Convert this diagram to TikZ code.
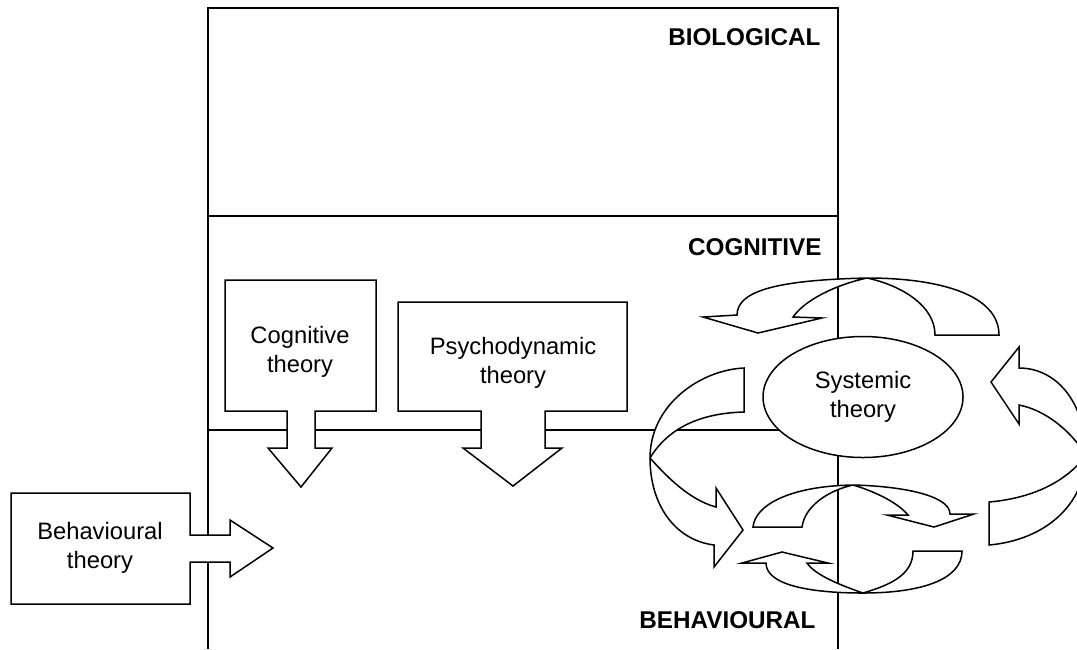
\documentclass[tikz,border=0pt]{standalone}
\usepackage{fontspec}
\setmainfont{Liberation Sans}
\usetikzlibrary{shapes.geometric}

\tikzset{
  outline/.style={line width=0.6pt, line join=miter},
  blockarrow/.style={outline, draw, fill=white},
  theorytext/.style={font=\fontsize{9.5}{11.6}\selectfont, align=center, inner sep=0pt},
  levelname/.style={font=\fontsize{9.7}{11}\selectfont\bfseries, anchor=east, inner sep=0pt}
}

\begin{document}
\begin{tikzpicture}[x=0.4pt,y=-0.4pt]

  \useasboundingbox (0,0) rectangle (1077,649);

  % Draw the level frame
  \draw[outline] (208,649) -- (208,8) -- (838,8) -- (838,649);
  \draw[outline] (208,216) -- (838,216);
  \draw[outline] (208,430) -- (800,430);

  % Level names
  \node[levelname] (biological) at (821,37) {BIOLOGICAL};
  \node[levelname] (cognitive) at (822,247) {COGNITIVE};
  \node[levelname] (behavioural) at (816,620) {BEHAVIOURAL};

  % Theory boxes with their arrows
  \draw[blockarrow] (225,280) -- (376,280) -- (376,411) -- (315,411) -- (315,448) -- (332,448)
    -- (301,487) -- (268,448) -- (287,448) -- (287,411) -- (225,411) -- cycle;
  \node[theorytext] (cogtheory) at (300,352) {Cognitive\\theory};

  \draw[blockarrow] (398,302) -- (627,302) -- (627,411) -- (545,411) -- (545,448) -- (562,448)
    -- (513,486) -- (463,448) -- (481,448) -- (481,411) -- (398,411) -- cycle;
  \node[theorytext] (psytheory) at (513,363) {Psychodynamic\\theory};

  \draw[blockarrow] (11,493) -- (190,493) -- (190,535) -- (230,535) -- (230,520) -- (273,548)
    -- (230,577) -- (230,562) -- (190,562) -- (190,604) -- (11,604) -- cycle;
  \node[theorytext] (behtheory) at (100,548) {Behavioural\\theory};

  % Systemic theory and its loops
  \node[ellipse, outline, draw, fill=white, minimum width=80pt, minimum height=48.4pt,
    inner sep=0pt, theorytext] (systemic) at (863,397) {Systemic\\theory};

  % top loop
  \draw[blockarrow] (935,335) -- (999,335)
    .. controls (999,295) and (940,278) .. (867,278)
    .. controls (780,280) and (737,290) .. (737,315)
    -- (703,317) -- (758,333) -- (822,318) -- (793,317)
    .. controls (805,300) and (835,285) .. (867,278)
    .. controls (900,285) and (935,305) .. cycle;

  % left loop
  \draw[blockarrow] (744,368) -- (744,412)
    .. controls (705,413) and (670,425) .. (650,458)
    .. controls (668,478) and (690,500) .. (716,507)
    -- (716,488) -- (743,530) -- (714,567) -- (714,545)
    .. controls (675,540) and (650,505) .. (650,458)
    .. controls (650,405) and (700,370) .. cycle;

  % right loop
  \draw[blockarrow] (989,502) -- (989,545)
    .. controls (1045,540) and (1085,505) .. (1086,455)
    .. controls (1085,400) and (1055,368) .. (1019,368)
    -- (1019,347) -- (991,382) -- (1019,424) -- (1019,405)
    .. controls (1045,410) and (1070,430) .. (1086,455)
    .. controls (1068,480) and (1035,498) .. cycle;

  % lower loops
  \draw[blockarrow] (753,527) -- (802,527)
    .. controls (805,505) and (830,490) .. (853,485)
    .. controls (880,493) and (900,505) .. (908,515)
    -- (887,515) -- (934,527) -- (974,514) -- (950,514)
    .. controls (950,495) and (900,486) .. (853,485)
    .. controls (790,486) and (755,505) .. cycle;

  \draw[blockarrow] (913,551) -- (962,551)
    .. controls (962,580) and (920,593) .. (863,593)
    .. controls (810,593) and (766,585) .. (766,563)
    -- (742,563) -- (782,552) -- (828,563) -- (807,563)
    .. controls (815,575) and (840,585) .. (863,593)
    .. controls (890,585) and (913,575) .. cycle;

\end{tikzpicture}
\end{document}
